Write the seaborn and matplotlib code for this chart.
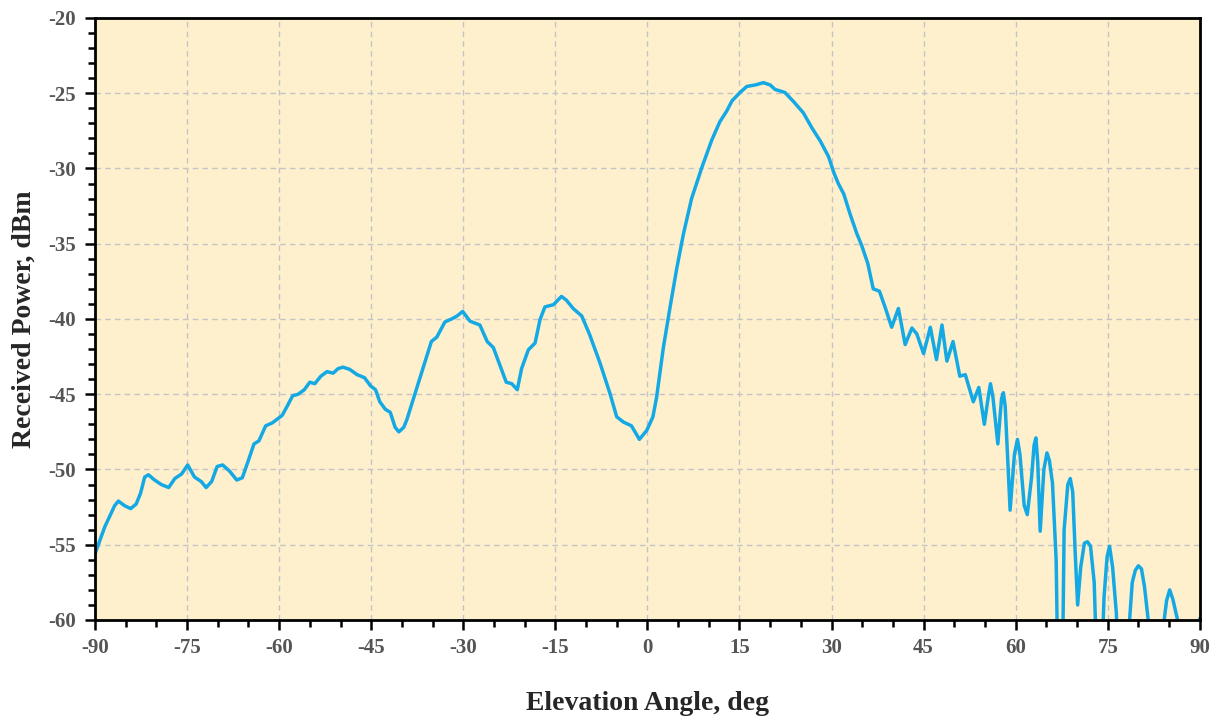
import numpy as np
import pandas as pd
import matplotlib
matplotlib.use("Agg")
import matplotlib.pyplot as plt
from matplotlib.ticker import MultipleLocator
import seaborn as sns

# elevation angle (deg) and received power (dBm)
angle_deg = [
    -90.0, -88.4, -86.8, -86.2, -85.2, -84.2, -83.3, -82.6, -81.9, -81.3,
    -80.3, -79.2, -78.0, -77.0, -75.9, -74.9, -73.8, -72.7, -71.9, -71.0,
    -70.1, -69.2, -68.1, -66.9, -66.0, -65.1, -64.1, -63.3, -62.2, -61.1,
    -59.5, -58.7, -57.8, -56.9, -55.9, -55.0, -54.2, -53.2, -52.2, -51.2,
    -50.4, -49.6, -48.5, -47.3, -46.1, -45.1, -44.3, -43.6, -42.7, -41.9,
    -41.1, -40.5, -39.7, -39.2, -38.2, -36.8, -35.2, -34.3, -33.0, -31.9,
    -31.0, -30.1, -28.9, -27.3, -26.1, -25.1, -24.0, -23.0, -22.1, -21.2,
    -20.5, -19.4, -18.3, -17.5, -16.7, -15.3, -14.0, -13.2, -12.1, -10.7,
    -9.4, -7.7, -6.1, -5.0, -3.9, -2.6, -1.3, -0.1, 0.9, 1.5,
    2.6, 3.7, 4.8, 5.9, 7.2, 8.9, 10.5, 11.8, 12.9, 13.8,
    15.1, 16.2, 17.6, 18.9, 20.0, 20.8, 22.4, 23.8, 25.4, 26.8,
    28.2, 29.5, 30.4, 31.1, 32.0, 33.0, 34.1, 34.9, 35.9, 36.8,
    37.8, 38.8, 39.8, 40.9, 42.0, 43.1, 43.9, 45.0, 46.1, 47.1,
    48.0, 48.8, 49.8, 50.9, 51.8, 53.1, 54.0, 54.9, 55.6, 55.9,
    56.3, 57.1, 57.7, 58.0, 58.3, 59.1, 59.8, 60.3, 60.7, 61.4,
    61.9, 62.6, 63.0, 63.3, 63.6, 64.0, 64.6, 65.1, 65.5, 66.0,
    66.6, 67.3, 67.9, 68.5, 68.9, 69.3, 69.7, 70.1, 70.6, 71.2,
    71.7, 72.2, 72.8, 73.6, 74.4, 74.9, 75.3, 75.8, 76.4, 77.6,
    78.6, 79.0, 79.5, 80.0, 80.5, 81.0, 81.6, 83.0, 84.2, 84.6,
    85.1, 85.6, 86.5, 88.2, 89.8, 90.0,
]
power_dbm = [
    -55.6, -53.8, -52.4, -52.1, -52.4, -52.6, -52.3, -51.6, -50.5, -50.35,
    -50.7, -51.0, -51.2, -50.6, -50.3, -49.7, -50.5, -50.8, -51.2, -50.8,
    -49.8, -49.7, -50.1, -50.7, -50.55, -49.5, -48.3, -48.1, -47.1, -46.9,
    -46.4, -45.8, -45.1, -45.0, -44.7, -44.2, -44.3, -43.8, -43.5, -43.6,
    -43.3, -43.2, -43.35, -43.7, -43.9, -44.45, -44.7, -45.5, -46.0, -46.2,
    -47.2, -47.5, -47.2, -46.7, -45.4, -43.6, -41.5, -41.2, -40.2, -40.0,
    -39.8, -39.5, -40.15, -40.4, -41.5, -41.9, -43.1, -44.2, -44.3, -44.7,
    -43.3, -42.05, -41.6, -40.05, -39.2, -39.05, -38.5, -38.75, -39.3, -39.8,
    -41.05, -42.95, -44.95, -46.5, -46.85, -47.1, -48.0, -47.4, -46.5, -45.2,
    -41.9, -39.2, -36.6, -34.3, -32.0, -29.9, -28.1, -26.9, -26.2, -25.5,
    -24.95, -24.55, -24.45, -24.3, -24.45, -24.75, -24.95, -25.55, -26.3, -27.3,
    -28.2, -29.2, -30.3, -31.0, -31.7, -33.0, -34.3, -35.1, -36.3, -38.0,
    -38.15, -39.3, -40.55, -39.3, -41.7, -40.6, -41.0, -42.3, -40.55, -42.7,
    -40.4, -42.8, -41.5, -43.8, -43.7, -45.5, -44.55, -47.0, -45.0, -44.3,
    -45.2, -48.3, -45.3, -44.9, -45.8, -52.7, -49.0, -48.0, -49.0, -52.4,
    -53.0, -50.5, -48.4, -47.9, -49.5, -54.1, -50.0, -48.9, -49.4, -50.9,
    -56.0, -75.0, -54.0, -51.0, -50.6, -51.5, -55.5, -59.0, -56.5, -54.9,
    -54.8, -55.1, -57.5, -68.0, -58.5, -55.8, -55.1, -56.5, -59.5, -72.0,
    -59.8, -57.5, -56.7, -56.4, -56.6, -57.8, -60.0, -75.0, -60.0, -58.7,
    -58.0, -58.6, -60.2, -75.0, -62.0, -59.9,
]

df = pd.DataFrame({"angle": angle_deg, "power": power_dbm})

sns.set_style("ticks")
plt.rcParams["font.family"] = ["Liberation Serif", "DejaVu Serif"]
plt.rcParams["axes.unicode_minus"] = False

fig = plt.figure(figsize=(12.23, 7.18), dpi=100)
ax = fig.add_axes([0.0777, 0.1365, 0.9033, 0.8385])
ax.set_facecolor("#FEF0CD")

sns.lineplot(data=df, x="angle", y="power", sort=False, color="#14A9E5",
             linewidth=2.5, ax=ax)

ax.set_xlim(-90, 90)
ax.set_ylim(-60, -20)
ax.xaxis.set_major_locator(MultipleLocator(15))
ax.xaxis.set_minor_locator(MultipleLocator(5))
ax.yaxis.set_major_locator(MultipleLocator(5))
ax.yaxis.set_minor_locator(MultipleLocator(1))

ax.grid(True, which="major", linestyle=(0, (4, 3)), color="#C4C4C4", linewidth=1.0)
ax.set_axisbelow(True)

for side in ["left", "right", "top", "bottom"]:
    ax.spines[side].set_visible(True)
    ax.spines[side].set_color("black")
    ax.spines[side].set_linewidth(2.0)

ax.tick_params(which="major", direction="out", length=7, width=1.8, color="black",
               labelsize=15, labelcolor="#555555")
ax.tick_params(which="minor", direction="out", length=5, width=1.8, color="black")
ax.tick_params(axis="y", which="major", pad=7)
ax.tick_params(axis="x", which="major", pad=6)
for lbl in ax.get_xticklabels() + ax.get_yticklabels():
    lbl.set_fontweight("bold")

ax.set_xlabel("Elevation Angle, deg", fontsize=20, fontweight="bold", labelpad=24)
ax.set_ylabel("Received Power, dBm", fontsize=20, fontweight="bold", labelpad=8)

fig.savefig("out.png", dpi=100)
